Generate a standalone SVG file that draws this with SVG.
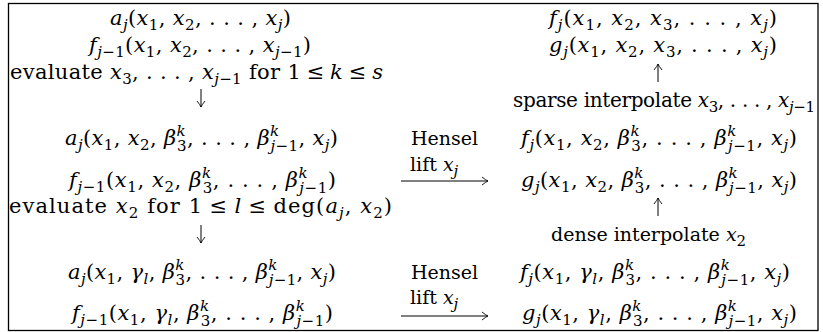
<svg xmlns="http://www.w3.org/2000/svg" width="823" height="332" viewBox="0 0 823 332">
<style>
.t{font-family:"DejaVu Serif",serif;font-size:21px;fill:#000;text-anchor:middle}
.p{font-size:20px}
.h{font-size:19px}
.l{text-anchor:start}
.i{font-style:italic}
.s{font-size:15px}
.c{fill:none;stroke:#000;stroke-width:1}
</style>
<defs>
<marker id="ah" viewBox="-7 -5 8 10" refX="0" refY="0" markerWidth="8" markerHeight="10" markerUnits="userSpaceOnUse" orient="auto">
<path d="M-6,-4 Q-2,-0.8 0,0 Q-2,0.8 -6,4" fill="none" stroke="#000" stroke-width="0.9"/>
</marker>
</defs>
<rect x="8.5" y="3.5" width="809.5" height="327" fill="#fff" stroke="#000" stroke-width="1.3"/>
<g id="left-top">
<text class="t" x="200.5" y="25" textLength="181" lengthAdjust="spacing"><tspan class="i">a</tspan><tspan class="s i" dy="5">j</tspan><tspan dy="-5">(</tspan><tspan class="i">x</tspan><tspan class="s" dy="5">1</tspan><tspan dy="-5">, </tspan><tspan class="i">x</tspan><tspan class="s" dy="5">2</tspan><tspan dy="-5">, . . . , </tspan><tspan class="i">x</tspan><tspan class="s i" dy="5">j</tspan><tspan dy="-5">)</tspan></text>
<text class="t" x="200" y="52" textLength="222" lengthAdjust="spacing"><tspan class="i">f</tspan><tspan class="s i" dy="5">j</tspan><tspan class="s">−1</tspan><tspan dy="-5">(</tspan><tspan class="i">x</tspan><tspan class="s" dy="5">1</tspan><tspan dy="-5">, </tspan><tspan class="i">x</tspan><tspan class="s" dy="5">2</tspan><tspan dy="-5">, . . . , </tspan><tspan class="i">x</tspan><tspan class="s i" dy="5">j</tspan><tspan class="s">−1</tspan><tspan dy="-5">)</tspan></text>
</g>
<g id="eval-sparse">
<text class="t" x="196.5" y="79" textLength="373" lengthAdjust="spacing">evaluate <tspan class="i">x</tspan><tspan class="s" dy="5">3</tspan><tspan dy="-5">, . . . , </tspan><tspan class="i">x</tspan><tspan class="s i" dy="5">j</tspan><tspan class="s">−1</tspan><tspan dy="-5"> for 1&#8197;≤&#8197;</tspan><tspan class="i">k</tspan>&#8197;≤&#8197;<tspan class="i">s</tspan></text>
</g>
<g id="left-mid">
<text class="t" x="201.5" y="145" textLength="273" lengthAdjust="spacing"><tspan class="i">a</tspan><tspan class="s i" dy="5">j</tspan><tspan dy="-5">(</tspan><tspan class="i">x</tspan><tspan class="s" dy="5">1</tspan><tspan dy="-5">, </tspan><tspan class="i">x</tspan><tspan class="s" dy="5">2</tspan><tspan dy="-5">, </tspan><tspan class="i">β</tspan><tspan class="s i" dy="-9">k</tspan><tspan class="s" dx="-9" dy="14.5">3</tspan><tspan dy="-5.5">, . . . , </tspan><tspan class="i">β</tspan><tspan class="s i" dy="-9">k</tspan><tspan class="s i" dx="-9" dy="14.5">j</tspan><tspan class="s">−1</tspan><tspan dy="-5.5">, </tspan><tspan class="i">x</tspan><tspan class="s i" dy="5">j</tspan><tspan dy="-5">)</tspan></text>
<text class="t" x="202.5" y="187" textLength="267" lengthAdjust="spacing"><tspan class="i">f</tspan><tspan class="s i" dy="5">j</tspan><tspan class="s">−1</tspan><tspan dy="-5">(</tspan><tspan class="i">x</tspan><tspan class="s" dy="5">1</tspan><tspan dy="-5">, </tspan><tspan class="i">x</tspan><tspan class="s" dy="5">2</tspan><tspan dy="-5">, </tspan><tspan class="i">β</tspan><tspan class="s i" dy="-9">k</tspan><tspan class="s" dx="-9" dy="14.5">3</tspan><tspan dy="-5.5">, . . . , </tspan><tspan class="i">β</tspan><tspan class="s i" dy="-9">k</tspan><tspan class="s i" dx="-9" dy="14.5">j</tspan><tspan class="s">−1</tspan><tspan dy="-5.5">)</tspan></text>
</g>
<g id="eval-dense">
<text class="t" x="200.5" y="213" textLength="383" lengthAdjust="spacing">evaluate <tspan class="i">x</tspan><tspan class="s" dy="5">2</tspan><tspan dy="-5"> for 1&#8197;≤&#8197;</tspan><tspan class="i">l</tspan>&#8197;≤&#8197;deg(<tspan class="i">a</tspan><tspan class="s i" dy="5">j</tspan><tspan dy="-5">, </tspan><tspan class="i">x</tspan><tspan class="s" dy="5">2</tspan><tspan dy="-5">)</tspan></text>
</g>
<g id="left-bottom">
<text class="t" x="202" y="279" textLength="268" lengthAdjust="spacing"><tspan class="i">a</tspan><tspan class="s i" dy="5">j</tspan><tspan dy="-5">(</tspan><tspan class="i">x</tspan><tspan class="s" dy="5">1</tspan><tspan dy="-5">, </tspan><tspan class="i">γ</tspan><tspan class="s i" dy="5">l</tspan><tspan dy="-5">, </tspan><tspan class="i">β</tspan><tspan class="s i" dy="-9">k</tspan><tspan class="s" dx="-9" dy="14.5">3</tspan><tspan dy="-5.5">, . . . , </tspan><tspan class="i">β</tspan><tspan class="s i" dy="-9">k</tspan><tspan class="s i" dx="-9" dy="14.5">j</tspan><tspan class="s">−1</tspan><tspan dy="-5.5">, </tspan><tspan class="i">x</tspan><tspan class="s i" dy="5">j</tspan><tspan dy="-5">)</tspan></text>
<text class="t" x="202.5" y="320" textLength="261" lengthAdjust="spacing"><tspan class="i">f</tspan><tspan class="s i" dy="5">j</tspan><tspan class="s">−1</tspan><tspan dy="-5">(</tspan><tspan class="i">x</tspan><tspan class="s" dy="5">1</tspan><tspan dy="-5">, </tspan><tspan class="i">γ</tspan><tspan class="s i" dy="5">l</tspan><tspan dy="-5">, </tspan><tspan class="i">β</tspan><tspan class="s i" dy="-9">k</tspan><tspan class="s" dx="-9" dy="14.5">3</tspan><tspan dy="-5.5">, . . . , </tspan><tspan class="i">β</tspan><tspan class="s i" dy="-9">k</tspan><tspan class="s i" dx="-9" dy="14.5">j</tspan><tspan class="s">−1</tspan><tspan dy="-5.5">)</tspan></text>
</g>
<g id="right-top">
<text class="t" x="663" y="25" textLength="228" lengthAdjust="spacing"><tspan class="i">f</tspan><tspan class="s i" dy="5">j</tspan><tspan dy="-5">(</tspan><tspan class="i">x</tspan><tspan class="s" dy="5">1</tspan><tspan dy="-5">, </tspan><tspan class="i">x</tspan><tspan class="s" dy="5">2</tspan><tspan dy="-5">, </tspan><tspan class="i">x</tspan><tspan class="s" dy="5">3</tspan><tspan dy="-5">, . . . , </tspan><tspan class="i">x</tspan><tspan class="s i" dy="5">j</tspan><tspan dy="-5">)</tspan></text>
<text class="t" x="663" y="52" textLength="228" lengthAdjust="spacing"><tspan class="i">g</tspan><tspan class="s i" dy="5">j</tspan><tspan dy="-5">(</tspan><tspan class="i">x</tspan><tspan class="s" dy="5">1</tspan><tspan dy="-5">, </tspan><tspan class="i">x</tspan><tspan class="s" dy="5">2</tspan><tspan dy="-5">, </tspan><tspan class="i">x</tspan><tspan class="s" dy="5">3</tspan><tspan dy="-5">, . . . , </tspan><tspan class="i">x</tspan><tspan class="s i" dy="5">j</tspan><tspan dy="-5">)</tspan></text>
</g>
<g id="sparse-label">
<text class="t p" x="664" y="107" textLength="302" lengthAdjust="spacing">sparse interpolate <tspan class="i">x</tspan><tspan class="s" dy="5">3</tspan><tspan dy="-5">, . . . , </tspan><tspan class="i">x</tspan><tspan class="s i" dy="5">j</tspan><tspan class="s">−1</tspan></text>
</g>
<g id="right-mid">
<text class="t" x="659" y="145" textLength="276" lengthAdjust="spacing"><tspan class="i">f</tspan><tspan class="s i" dy="5">j</tspan><tspan dy="-5">(</tspan><tspan class="i">x</tspan><tspan class="s" dy="5">1</tspan><tspan dy="-5">, </tspan><tspan class="i">x</tspan><tspan class="s" dy="5">2</tspan><tspan dy="-5">, </tspan><tspan class="i">β</tspan><tspan class="s i" dy="-9">k</tspan><tspan class="s" dx="-9" dy="14.5">3</tspan><tspan dy="-5.5">, . . . , </tspan><tspan class="i">β</tspan><tspan class="s i" dy="-9">k</tspan><tspan class="s i" dx="-9" dy="14.5">j</tspan><tspan class="s">−1</tspan><tspan dy="-5.5">, </tspan><tspan class="i">x</tspan><tspan class="s i" dy="5">j</tspan><tspan dy="-5">)</tspan></text>
<text class="t" x="659" y="187" textLength="276" lengthAdjust="spacing"><tspan class="i">g</tspan><tspan class="s i" dy="5">j</tspan><tspan dy="-5">(</tspan><tspan class="i">x</tspan><tspan class="s" dy="5">1</tspan><tspan dy="-5">, </tspan><tspan class="i">x</tspan><tspan class="s" dy="5">2</tspan><tspan dy="-5">, </tspan><tspan class="i">β</tspan><tspan class="s i" dy="-9">k</tspan><tspan class="s" dx="-9" dy="14.5">3</tspan><tspan dy="-5.5">, . . . , </tspan><tspan class="i">β</tspan><tspan class="s i" dy="-9">k</tspan><tspan class="s i" dx="-9" dy="14.5">j</tspan><tspan class="s">−1</tspan><tspan dy="-5.5">, </tspan><tspan class="i">x</tspan><tspan class="s i" dy="5">j</tspan><tspan dy="-5">)</tspan></text>
</g>
<g id="dense-label">
<text class="t h l" x="551" y="241">dense interpolate <tspan class="i">x</tspan><tspan class="s" dy="5">2</tspan></text>
</g>
<g id="right-bottom">
<text class="t" x="655" y="279" textLength="270" lengthAdjust="spacing"><tspan class="i">f</tspan><tspan class="s i" dy="5">j</tspan><tspan dy="-5">(</tspan><tspan class="i">x</tspan><tspan class="s" dy="5">1</tspan><tspan dy="-5">, </tspan><tspan class="i">γ</tspan><tspan class="s i" dy="5">l</tspan><tspan dy="-5">, </tspan><tspan class="i">β</tspan><tspan class="s i" dy="-9">k</tspan><tspan class="s" dx="-9" dy="14.5">3</tspan><tspan dy="-5.5">, . . . , </tspan><tspan class="i">β</tspan><tspan class="s i" dy="-9">k</tspan><tspan class="s i" dx="-9" dy="14.5">j</tspan><tspan class="s">−1</tspan><tspan dy="-5.5">, </tspan><tspan class="i">x</tspan><tspan class="s i" dy="5">j</tspan><tspan dy="-5">)</tspan></text>
<text class="t" x="659.5" y="320" textLength="275" lengthAdjust="spacing"><tspan class="i">g</tspan><tspan class="s i" dy="5">j</tspan><tspan dy="-5">(</tspan><tspan class="i">x</tspan><tspan class="s" dy="5">1</tspan><tspan dy="-5">, </tspan><tspan class="i">γ</tspan><tspan class="s i" dy="5">l</tspan><tspan dy="-5">, </tspan><tspan class="i">β</tspan><tspan class="s i" dy="-9">k</tspan><tspan class="s" dx="-9" dy="14.5">3</tspan><tspan dy="-5.5">, . . . , </tspan><tspan class="i">β</tspan><tspan class="s i" dy="-9">k</tspan><tspan class="s i" dx="-9" dy="14.5">j</tspan><tspan class="s">−1</tspan><tspan dy="-5.5">, </tspan><tspan class="i">x</tspan><tspan class="s i" dy="5">j</tspan><tspan dy="-5">)</tspan></text>
</g>
<g id="hensel-1">
<text class="t h l" x="411" y="145" textLength="67" lengthAdjust="spacing">Hensel</text>
<text class="t h l" x="410" y="171">lift <tspan class="i">x</tspan><tspan class="s i" dy="5">j</tspan></text>
</g>
<g id="hensel-2">
<text class="t h l" x="411" y="279" textLength="67" lengthAdjust="spacing">Hensel</text>
<text class="t h l" x="410" y="304">lift <tspan class="i">x</tspan><tspan class="s i" dy="5">j</tspan></text>
</g>
<g id="connectors">
<path class="c" d="M201,89 V107" marker-end="url(#ah)"/>
<path class="c" d="M201,225 V243" marker-end="url(#ah)"/>
<path class="c" d="M658,82 V64" marker-end="url(#ah)"/>
<path class="c" d="M658,216 V198" marker-end="url(#ah)"/>
<path class="c" d="M401,181 H488" marker-end="url(#ah)"/>
<path class="c" d="M401,316 H488" marker-end="url(#ah)"/>
</g>
</svg>
